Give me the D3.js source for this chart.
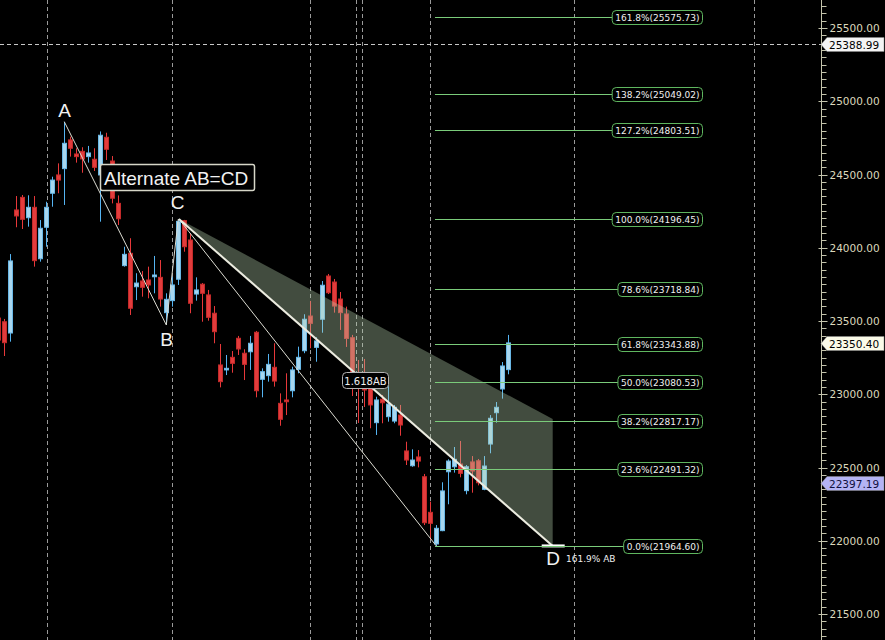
<!DOCTYPE html>
<html><head><meta charset="utf-8">
<script src="https://cdn.jsdelivr.net/npm/d3@7"></script>
<style>html,body{margin:0;padding:0;background:#000;overflow:hidden}</style>
</head><body>
<svg id="c" width="885" height="640"></svg>
<script>
// ---------------- DATA ----------------
const startIndex = -1;
const opens  = [23520,23495,23418,24258,24344,24205,24276,23925,24140,24372,24497,24540,24736,24640,24658,24622,24604,24497,24754,24592,24303,23878,23962,23734,23773,23780,23802,23798,23557,23639,23785,24185,24053,23684,23751,23678,23553,23200,23166,23252,23382,23280,23290,23423,23102,23127,23184,22938,22961,23024,23170,23297,23534,23320,23512,23807,23766,23650,23548,23386,23145,23131,23052,22806,22966,22847,22817,22858,22613,22512,22572,22437,22194,21978,22069,22471,22505,22524,22342,22538,22546,22351,22660,22874,23036,23168];
const highs  = [23541,23514,23957,24353,24360,24358,24353,24189,24314,24485,24576,24860,24758,24679,24686,24695,24679,24794,24785,24626,24357,24007,24065,23826,23841,23871,23944,23916,23689,23802,24196.45,24190,24099,23798,23759,23712,23602,23343,23268,23295,23398,23307,23398,23432,23177,23275,23348,23006,23143,23188,23325,23546,23637,23389,23773,23821,23787,23698,23598,23405,23234,23241,23097,22983,22995,23063,22927,22927,22676,22624,22619,22456,22267,22107,22399,22556,22640,22681,22517,22578,22558,22578,22858,22947,23220,23405];
const lows   = [23336,23261,23359,24140,24128,24144,23871,23905,24007,24280,24372,24292,24622,24581,24512,24581,24524,24178,24599,24303,24155,23871,23541,23643,23666,23655,23689,23598,23473,23598,23746,23973,23553,23639,23495,23502,23348,23047,23131,23147,23268,23097,23166,22979,22979,23086,23052,22785,22858,22979,23143,23280,23314,23222,23420,23684,23557,23439,23323,22988,22804,22913,22768,22722,22802,22813,22802,22717,22517,22505,22501,22107,22005,21964.6,22065,22249,22465,22433,22317,22328,22378,22345,22597,22806,22970,23136];
const closes = [23370,23352,23910,24217,24194,24276,23912,24133,24276,24462,24462,24713,24679,24622,24606,24647,24549,24768,24672,24338,24198,23955,23587,23759,23730,23746,23814,23650,23648,23746,24180,24007,23621,23712,23689,23525,23427,23086,23177,23211,23309,23204,23348,23024,23154,23204,23090,22829,22949,23166,23252,23512,23484,23364,23744,23693,23602,23557,23381,23125,23043,23029,22927,22961,22942,22933,22911,22790,22551,22551,22544,22123,22119,22085,22340,22544,22556,22460,22505,22476,22396,22510,22836,22911,23193,23350.4];

const fibPct = ["161.8%","138.2%","127.2%","100.0%","78.6%","61.8%","50.0%","38.2%","23.6%","0.0%"];
const fibVal = [25575.73,25049.02,24803.51,24196.45,23718.84,23343.88,23080.53,22817.17,22491.32,21964.60];

const axisTicks = [21500,22000,22500,23000,23500,24000,24500,25000,25500];
const tagValues = [25388.99, 23350.40, 22397.19];
const tagFills  = ["#f4f4f4", "#fbfbe8", "#b4b4f4"];

// pattern points: [index, price]
const ptA = [10, 24860], ptB = [27, 23473], ptC = [29.1, 24196.45], ptL = [72, 21964.6];
const ptD = [91.4, 21964.6], ptProjTop = [91.4, 22831];
const gridIdx = [7.05, 28, 51, 58.55, 59.55, 71.03, 94.95, 124.95];
const crossPrice = 25388.99;

// ---------------- CHART ----------------
const W = 885, H = 640, axisX = 821;
const svg = d3.select("#c");
svg.append("rect").attr("width", W).attr("height", H).attr("fill", "#000");

const x = d3.scaleLinear().domain([0, 84]).range([4.3, 508.3]);
const y = d3.scaleLinear().domain([21500, 25500]).range([614, 28]);

const plot = svg.append("g");
plot.append("clipPath").attr("id","clip").append("rect").attr("x",0).attr("y",0).attr("width",axisX).attr("height",H);
const g = plot.append("g").attr("clip-path","url(#clip)");

// vertical dashed grid
g.selectAll("line.vg").data(gridIdx).join("line")
  .attr("x1", d => Math.round(x(d)) + 0.5).attr("x2", d => Math.round(x(d)) + 0.5)
  .attr("y1", 0).attr("y2", H)
  .attr("stroke", "#9a9a9a").attr("stroke-dasharray", "4,3");

// horizontal crosshair
g.append("line").attr("x1", 0).attr("x2", axisX)
  .attr("y1", Math.round(y(crossPrice)) + 0.5).attr("y2", Math.round(y(crossPrice)) + 0.5)
  .attr("stroke", "#c8c8c8").attr("stroke-dasharray", "4,3");

// candles
const candles = opens.map((o, k) => ({i: k + startIndex, o, h: highs[k], l: lows[k], c: closes[k]}));
const cg = g.append("g");
candles.forEach(d => {
  const cx = Math.round(x(d.i));
  const up = d.c >= d.o;
  const wick = up ? "#55b4f2" : "#e8383a";
  cg.append("line").attr("x1", cx + 0.5).attr("x2", cx + 0.5)
    .attr("y1", y(d.h)).attr("y2", y(d.l)).attr("stroke", wick).attr("stroke-width", 1);
  const top = y(Math.max(d.o, d.c)), bot = y(Math.min(d.o, d.c));
  const hh = Math.max(1.5, bot - top);
  cg.append("rect").attr("x", cx - 1.5).attr("y", top).attr("width", 4).attr("height", hh)
    .attr("fill", up ? "#a8d6ee" : "#e23c3c")
    .attr("stroke", up ? "#6ab8e6" : "#c42a2a").attr("stroke-width", 1);
});

// projection polygon
const P = p => [x(p[0]), y(p[1])];
g.append("path")
  .attr("d", d3.line()([P(ptC), P(ptProjTop), P(ptD)]) + "Z")
  .attr("fill", "#b8d4b0").attr("fill-opacity", 0.36);

// pattern lines
const thin = (a, b) => g.append("line").attr("x1", P(a)[0]).attr("y1", P(a)[1]).attr("x2", P(b)[0]).attr("y2", P(b)[1])
  .attr("stroke", "#dcdcd2").attr("stroke-width", 1);
thin(ptA, ptB); thin(ptB, [29, 24196.45]); thin(ptC, ptL);
g.append("line").attr("x1", P(ptC)[0]).attr("y1", P(ptC)[1]).attr("x2", P(ptD)[0]).attr("y2", P(ptD)[1])
  .attr("stroke", "#ecece0").attr("stroke-width", 2);

// D bar
g.append("rect").attr("x", P(ptD)[0] - 11).attr("y", y(ptD[1]) - 1.5).attr("width", 23).attr("height", 3).attr("fill", "#ffffff");

// fib lines + labels
const fibX0 = x(71.78), fibRight = 702.5;
fibVal.forEach((v, k) => {
  const yy = Math.round(y(v)) + 0.5;
  const t = svg.append("text").attr("x", 0).attr("y", 0)
    .attr("font-family", "DejaVu Sans").attr("font-size", 9).attr("fill", "#f0f0f0")
    .text(fibPct[k] + "(" + d3.format(".2f")(v) + ")");
  const tw = t.node().getComputedTextLength();
  const bw = tw + 6, bx = fibRight - bw;
  g.append("line").attr("x1", fibX0).attr("x2", bx).attr("y1", yy).attr("y2", yy)
    .attr("stroke", "#7acb7a").attr("stroke-width", 1);
  svg.append("rect").attr("x", bx).attr("y", yy - 7).attr("width", bw).attr("height", 14).attr("rx", 4)
    .attr("fill", "#000").attr("stroke", "#5fb65f").attr("stroke-width", 1);
  t.attr("x", bx + 3).attr("y", yy + 3.5).raise();
});

// labels A B C D
const big = (txt, cx, by) => svg.append("text").attr("x", cx).attr("y", by).attr("text-anchor", "middle")
  .attr("font-family", "Liberation Sans, Arial").attr("font-size", 19).attr("fill", "#f2f2f2").text(txt);
big("A", 64.5, 117); big("B", 166.5, 346); big("C", 177.5, 209); big("D", 553, 565);

svg.append("text").attr("x", 566).attr("y", 562).attr("font-family", "DejaVu Sans").attr("font-size", 9)
  .attr("fill", "#f0f0f0").text("161.9% AB");

// Alternate AB=CD box
svg.append("rect").attr("x", 100.5).attr("y", 164.5).attr("width", 154).attr("height", 26).attr("rx", 2)
  .attr("fill", "#000").attr("stroke", "#d6d6c8").attr("stroke-width", 1.5);
svg.append("text").attr("x", 104).attr("y", 184.5).attr("font-family", "Liberation Sans, Arial").attr("font-size", 19)
  .attr("fill", "#f2f2f2").text("Alternate AB=CD");

// 1.618AB box
svg.append("rect").attr("x", 342.5).attr("y", 372.5).attr("width", 46).attr("height", 16).attr("rx", 4)
  .attr("fill", "#000").attr("stroke", "#b4b4b4").attr("stroke-width", 1);
svg.append("text").attr("x", 365.5).attr("y", 384.5).attr("text-anchor", "middle").attr("font-family", "DejaVu Sans")
  .attr("font-size", 10).attr("fill", "#f0f0f0").text("1.618AB");

// right axis
const ax = svg.append("g").attr("transform", `translate(${axisX + 0.5},0)`);
ax.append("line").attr("y1", 0).attr("y2", H).attr("stroke", "#c4c4ac");
const minor = d3.range(21350, 25750, 50);
ax.selectAll("line.mt").data(minor).join("line")
  .attr("x1", 0).attr("x2", 5).attr("y1", d => Math.round(y(d)) + 0.5).attr("y2", d => Math.round(y(d)) + 0.5)
  .attr("stroke", "#c4c4ac");
ax.selectAll("line.Mt").data(axisTicks).join("line")
  .attr("x1", -3).attr("x2", 6).attr("y1", d => Math.round(y(d)) + 0.5).attr("y2", d => Math.round(y(d)) + 0.5)
  .attr("stroke", "#c4c4ac");
ax.selectAll("text.tl").data(axisTicks).join("text")
  .attr("x", 8).attr("y", d => y(d) + 4).attr("font-family", "DejaVu Sans").attr("font-size", 10.5)
  .attr("fill", "#dcd8bc").text(d => d3.format(".2f")(d));

// price tags
tagValues.forEach((v, k) => {
  const yc = Math.round(y(v)) + 0.5;
  svg.append("path").attr("d", `M${axisX},${yc} L${axisX + 6},${yc - 7} L884,${yc - 7} L884,${yc + 7} L${axisX + 6},${yc + 7} Z`)
    .attr("fill", tagFills[k]).attr("stroke", "#888").attr("stroke-width", 0.5);
  svg.append("text").attr("x", axisX + 8).attr("y", yc + 4).attr("font-family", "DejaVu Sans").attr("font-size", 10.5)
    .attr("fill", k === 2 ? "#101040" : "#000").text(d3.format(".2f")(v));
});
</script>
</body></html>
